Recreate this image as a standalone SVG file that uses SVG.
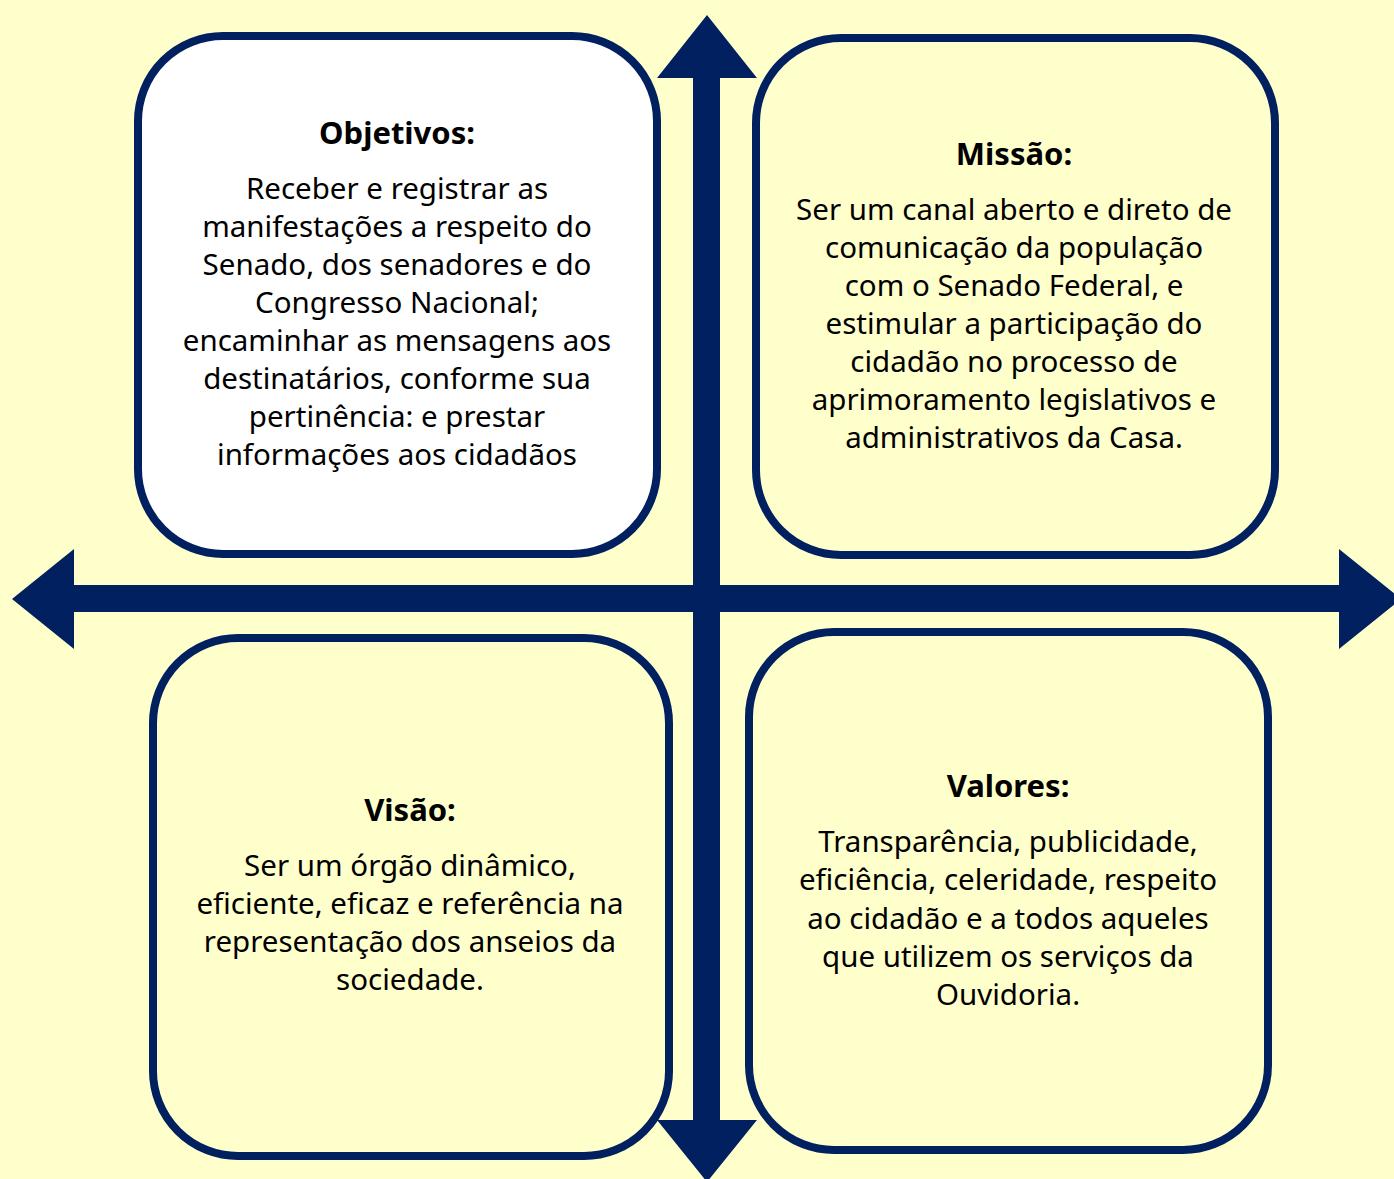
<svg xmlns="http://www.w3.org/2000/svg" width="1394" height="1179" viewBox="0 0 1394 1179">
<style>
.bg{fill:#FFFFCC}
.box{stroke:#002060;stroke-width:8;fill:none}
.arrow{fill:#002060}
text{font-family:"Noto Sans","Open Sans",sans-serif;font-size:29.5px;fill:#000;text-anchor:middle}
.t{font-weight:bold;font-size:31px}
</style>
<rect class="bg" x="0" y="0" width="1394" height="1179"/>
<g id="connectors">
<polygon class="arrow" points="693,78 657,78 707,15 757,78 720,78 720,1120 757,1120 707,1182 657,1120 693,1120"/>
<polygon class="arrow" points="74,585 74,549 12,599 74,649 74,612 1339,612 1339,649 1401,599 1339,549 1339,585"/>
</g>
<g id="objetivos">
<rect class="box" x="138" y="36" width="519" height="518" rx="85" style="fill:#FFFFFF"/>
<text class="t" x="397" y="144">Objetivos:</text>
<text x="397" y="199">Receber e registrar as</text>
<text x="397" y="237">manifestações a respeito do</text>
<text x="397" y="275">Senado, dos senadores e do</text>
<text x="397" y="313">Congresso Nacional;</text>
<text x="397" y="351">encaminhar as mensagens aos</text>
<text x="397" y="389">destinatários, conforme sua</text>
<text x="397" y="427">pertinência: e prestar</text>
<text x="397" y="465">informações aos cidadãos</text>
</g>
<g id="missao">
<rect class="box" x="756" y="38" width="519" height="517" rx="85"/>
<text class="t" x="1014" y="165">Missão:</text>
<text x="1014" y="220">Ser um canal aberto e direto de</text>
<text x="1014" y="258">comunicação da população</text>
<text x="1014" y="296">com o Senado Federal, e</text>
<text x="1014" y="334">estimular a participação do</text>
<text x="1014" y="372">cidadão no processo de</text>
<text x="1014" y="410">aprimoramento legislativos e</text>
<text x="1014" y="448">administrativos da Casa.</text>
</g>
<g id="visao">
<rect class="box" x="153" y="638" width="516" height="518" rx="85"/>
<text class="t" x="410" y="821">Visão:</text>
<text x="410" y="876">Ser um órgão dinâmico,</text>
<text x="410" y="914">eficiente, eficaz e referência na</text>
<text x="410" y="952">representação dos anseios da</text>
<text x="410" y="990">sociedade.</text>
</g>
<g id="valores">
<rect class="box" x="749" y="632" width="519" height="518" rx="85"/>
<text class="t" x="1008" y="797">Valores:</text>
<text x="1008" y="852">Transparência, publicidade,</text>
<text x="1008" y="890">eficiência, celeridade, respeito</text>
<text x="1008" y="929">ao cidadão e a todos aqueles</text>
<text x="1008" y="967">que utilizem os serviços da</text>
<text x="1008" y="1005">Ouvidoria.</text>
</g>
</svg>
